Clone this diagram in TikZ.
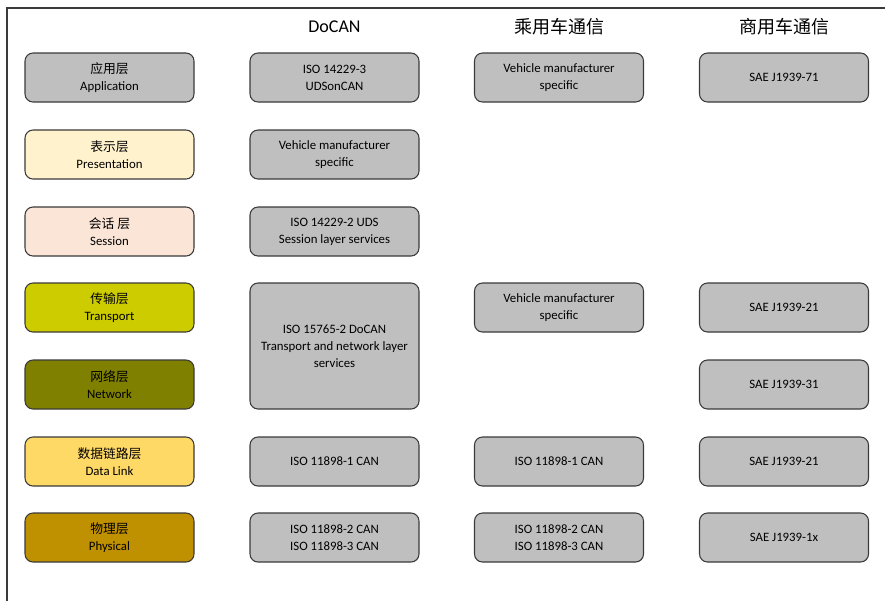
\documentclass[tikz,border=0pt]{standalone}
\usepackage{fontspec}
\setmainfont{Carlito}
\newfontfamily\cjk{Noto Sans CJK SC}
\usepackage{tikz}
\definecolor{boxGray}{HTML}{BFBFBF}
\definecolor{presFill}{HTML}{FFF2CC}
\definecolor{sessFill}{HTML}{FBE5D6}
\definecolor{transFill}{HTML}{CCCC00}
\definecolor{netFill}{HTML}{808000}
\definecolor{linkFill}{HTML}{FFD966}
\definecolor{physFill}{HTML}{BF9000}
\definecolor{edgeGray}{HTML}{3A3A3A}

\begin{document}
\begin{tikzpicture}[x=0.75pt,y=-0.75pt,
  layer/.style={draw=edgeGray,line width=0.8pt,rounded corners=6pt,fill=boxGray,
    minimum width=126.75pt,minimum height=36.75pt,align=center,inner sep=2pt,
    font=\fontsize{9.6}{12.6}\selectfont},
  head/.style={font=\fontsize{13.5}{15}\selectfont}]
\useasboundingbox (0,0) rectangle (885,601);
\draw[edgeGray,line width=1pt] (7,601) -- (7,8) -- (885,8);
% headers
\node[head] (hdocan) at (334.5,27) {DoCAN};
\node[head] (hpc) at (559,27) {\cjk 乘用车通信};
\node[head] (hcv) at (784,27) {\cjk 商用车通信};
% OSI layers
\node[layer] (app) at (109.5,77.5) {{\cjk 应用层}\\Application};
\node[layer,fill=presFill] (pres) at (109.5,154.5) {{\cjk 表示层}\\Presentation};
\node[layer,fill=sessFill] (sess) at (109.5,231.5) {{\cjk 会话 层}\\Session};
\node[layer,fill=transFill] (trans) at (109.5,307.5) {{\cjk 传输层}\\Transport};
\node[layer,fill=netFill] (net) at (109.5,384.5) {{\cjk 网络层}\\Network};
\node[layer,fill=linkFill] (link) at (109.5,461.5) {{\cjk 数据链路层}\\Data Link};
\node[layer,fill=physFill] (phys) at (109.5,537.5) {{\cjk 物理层}\\Physical};
% DoCAN
\node[layer] (uds) at (334.5,77.5) {ISO 14229-3\\UDSonCAN};
\node[layer] (vms) at (334.5,154.5) {Vehicle manufacturer\\specific};
\node[layer] (sessv) at (334.5,231.5) {ISO 14229-2 UDS\\Session layer services};
\node[layer,minimum height=94.5pt] (tp) at (334.5,346) {ISO 15765-2 DoCAN\\Transport and network layer\\services};
\node[layer] (dlcan) at (334.5,461.5) {ISO 11898-1 CAN};
\node[layer] (phycan) at (334.5,537.5) {ISO 11898-2 CAN\\ISO 11898-3 CAN};
% passenger car
\node[layer] (pcapp) at (559,77.5) {Vehicle manufacturer\\specific};
\node[layer] (pctp) at (559,307.5) {Vehicle manufacturer\\specific};
\node[layer] (pclink) at (559,461.5) {ISO 11898-1 CAN};
\node[layer] (pcphy) at (559,537.5) {ISO 11898-2 CAN\\ISO 11898-3 CAN};
% commercial vehicle
\node[layer] (jsev) at (784,77.5) {SAE J1939-71};
\node[layer] (jtwo) at (784,307.5) {SAE J1939-21};
\node[layer] (jthree) at (784,384.5) {SAE J1939-31};
\node[layer] (jlink) at (784,461.5) {SAE J1939-21};
\node[layer] (jphy) at (784,537.5) {SAE J1939-1x};
\end{tikzpicture}
\end{document}
